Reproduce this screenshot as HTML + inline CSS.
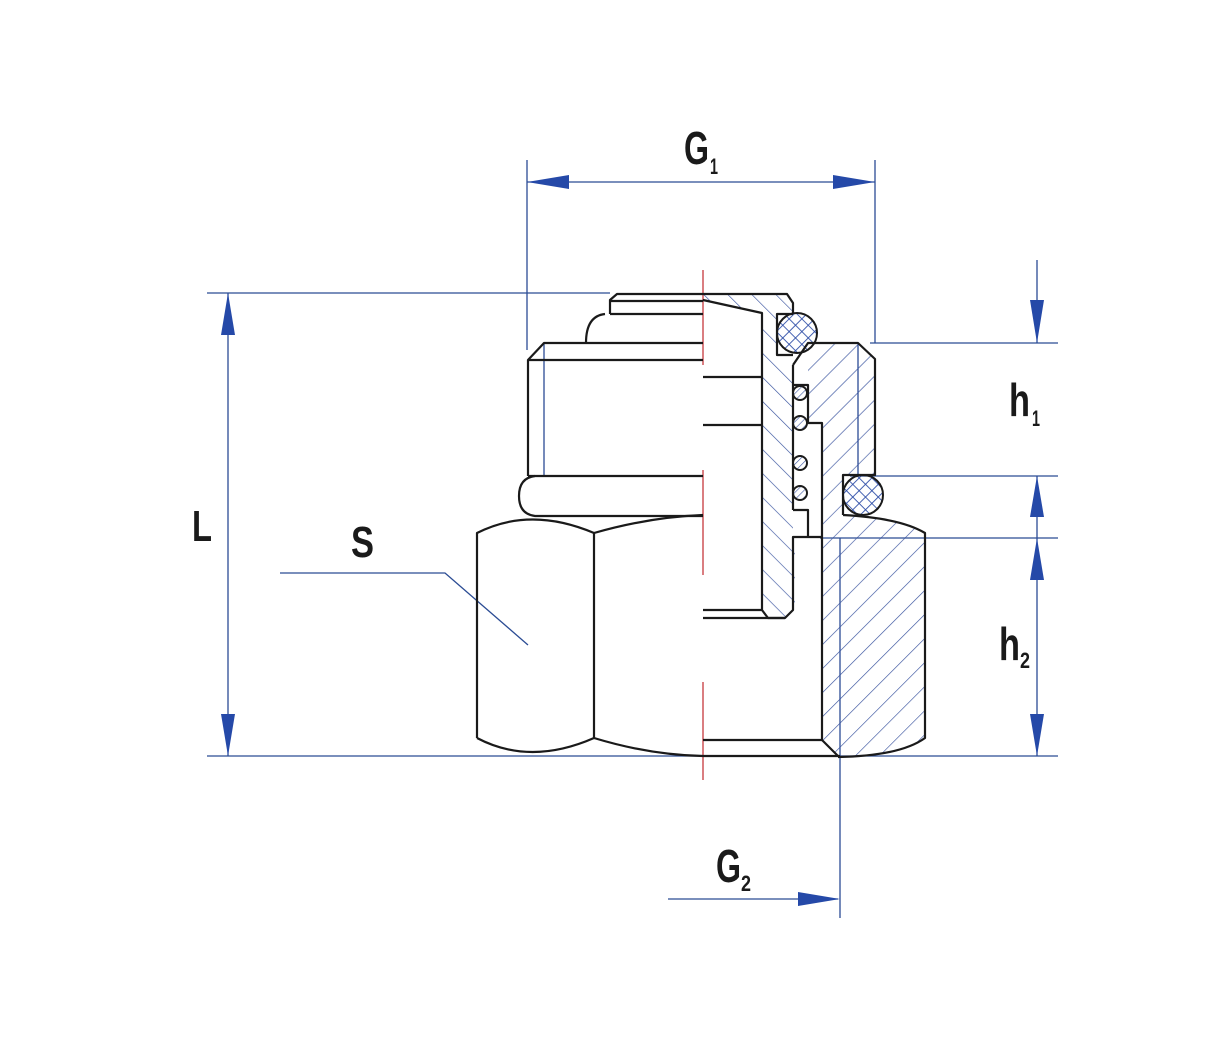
<!DOCTYPE html>
<html><head><meta charset="utf-8"><style>
html,body{margin:0;padding:0;background:#fff;width:1209px;height:1050px;overflow:hidden}
svg text{font-family:"Liberation Sans Narrow","Liberation Sans",sans-serif;fill:#1a1a1a}
</style></head><body>
<svg width="1209" height="1050" viewBox="0 0 1209 1050" xmlns="http://www.w3.org/2000/svg">
<defs>
<pattern id="hb" width="17" height="17" patternUnits="userSpaceOnUse" patternTransform="rotate(-45)"><line x1="0" y1="0" x2="0" y2="17" stroke="#3b55a0" stroke-width="1.3"/></pattern>
<pattern id="hf" width="17" height="17" patternUnits="userSpaceOnUse" patternTransform="rotate(45)"><line x1="0" y1="0" x2="0" y2="17" stroke="#3b55a0" stroke-width="1.3"/></pattern>
<pattern id="hx" width="9" height="9" patternUnits="userSpaceOnUse" patternTransform="rotate(45)"><path d="M0 0V9M0 0H9" stroke="#2f4fa8" stroke-width="1.8"/></pattern>
<pattern id="hs" width="5" height="5" patternUnits="userSpaceOnUse" patternTransform="rotate(45)"><line x1="0" y1="0" x2="0" y2="5" stroke="#3b55a0" stroke-width="1.2"/></pattern>
</defs>

<g stroke="#2b4c94" stroke-width="1.3" fill="none">
<line x1="527" y1="160" x2="527" y2="350"/>
<line x1="875" y1="160" x2="875" y2="343"/>
<line x1="527" y1="182" x2="875" y2="182"/>
<line x1="228" y1="293" x2="228" y2="756"/>
<line x1="207" y1="293" x2="610" y2="293"/>
<line x1="207" y1="756" x2="1058" y2="756"/>
<line x1="870" y1="343" x2="1058" y2="343"/>
<line x1="850" y1="476" x2="1058" y2="476"/>
<line x1="820" y1="538" x2="1058" y2="538"/>
<line x1="1037" y1="260" x2="1037" y2="343"/>
<line x1="1037" y1="476" x2="1037" y2="756"/>
<line x1="544" y1="343" x2="544" y2="476"/>
<line x1="858" y1="343" x2="858" y2="476"/>
<line x1="840" y1="538" x2="840" y2="918"/>
<line x1="668" y1="899" x2="838" y2="899"/>
<polyline points="280,573 445,573 528,645"/>
</g>
<g fill="#2549a8">
<polygon points="527,182 569,175 569,189"/>
<polygon points="875,182 833,175 833,189"/>
<polygon points="228,293 221,335 235,335"/>
<polygon points="228,756 221,714 235,714"/>
<polygon points="1037,343 1030,300 1044,300"/>
<polygon points="1037,476 1030,517 1044,517"/>
<polygon points="1037,538 1030,580 1044,580"/>
<polygon points="1037,756 1030,714 1044,714"/>
<polygon points="840,899 798,892 798,906"/>
</g>

<g stroke="#c0272d" stroke-width="1.2">
<line x1="703" y1="270" x2="703" y2="365"/>
<line x1="703" y1="470" x2="703" y2="575"/>
<line x1="703" y1="682" x2="703" y2="780"/>
</g>

<path d="M703,300 L703,294 L787,294 L793,305 L793,314 L777,314 L777,355 L793,365 L793,537 L795,537 L795,610 L785,618 L768,618 L762,610 L762,313 Z" fill="url(#hb)"/>
<path d="M808,365 L828,343 L858,343 L875,359 L875,475 L843,475 L843,515 Q900,518 925,533 L925,738 Q900,756 838,757 L822,740 L822,423 L808,423 Z" fill="url(#hf)"/>
<circle cx="797" cy="333" r="20" fill="url(#hx)"/>
<circle cx="863" cy="495" r="20" fill="url(#hx)"/>

<g stroke="#1a1a1a" stroke-width="2.2" fill="none" stroke-linejoin="round">
<polyline points="610,314 610,300 617,294 703,294"/>
<line x1="610" y1="301" x2="703" y2="301"/>
<line x1="610" y1="314" x2="703" y2="314"/>
<path d="M605,314 Q586,316 586,343"/>
<polyline points="528,476 528,360 544,343 703,343"/>
<line x1="528" y1="360" x2="703" y2="360"/>
<line x1="528" y1="476" x2="703" y2="476"/>
<path d="M535,476 Q519,478 519,496 Q519,514 535,516 L703,516"/>
<path d="M477,738 L477,533 Q530,506 594,533 Q650,517 703,515"/>
<line x1="594" y1="533" x2="594" y2="738"/>
<path d="M477,738 Q530,766 594,738 Q650,755 703,756 L840,756"/>
<line x1="703" y1="377" x2="762" y2="377"/>
<line x1="703" y1="425" x2="762" y2="425"/>
<line x1="703" y1="610" x2="762" y2="610"/>
<line x1="703" y1="618" x2="785" y2="618"/>
<line x1="703" y1="740" x2="822" y2="740"/>
<path d="M703,300 L762,313 L762,610 L768,618 L785,618 L793,610 L793,537 L822,537"/>
<polyline points="703,294 787,294 793,303 793,314"/>
<polyline points="793,314 777,314 777,355 793,355"/>
<line x1="793" y1="365" x2="793" y2="510"/>
<polyline points="793,385 808,385 808,423 822,423 822,740 838,756"/>
<polyline points="793,510 808,510 808,537"/>
<polyline points="793,365 808,343 858,343 875,359 875,475 843,475 843,515"/>
<path d="M843,515 Q900,518 925,533 L925,738 Q900,756 838,757"/>
</g>
<g stroke="#1a1a1a" stroke-width="2">
<circle cx="797" cy="333" r="20" fill="none"/>
<circle cx="863" cy="495" r="20" fill="none"/>
<circle cx="800" cy="393" r="7" fill="url(#hs)"/>
<circle cx="800" cy="423" r="7" fill="url(#hs)"/>
<circle cx="800" cy="463" r="7" fill="url(#hs)"/>
<circle cx="800" cy="493" r="7" fill="url(#hs)"/>
</g>

<g font-weight="bold">
<text x="684" y="164" font-size="46" textLength="25" lengthAdjust="spacingAndGlyphs">G</text><text x="710" y="174" font-size="22" textLength="8" lengthAdjust="spacingAndGlyphs">1</text>
<text x="192" y="541" font-size="44" textLength="20" lengthAdjust="spacingAndGlyphs">L</text>
<text x="351" y="557" font-size="44" textLength="23" lengthAdjust="spacingAndGlyphs">S</text>
<text x="1009" y="416" font-size="46" textLength="21" lengthAdjust="spacingAndGlyphs">h</text><text x="1032" y="426" font-size="22" textLength="8" lengthAdjust="spacingAndGlyphs">1</text>
<text x="999" y="660" font-size="46" textLength="21" lengthAdjust="spacingAndGlyphs">h</text><text x="1020" y="668" font-size="22" textLength="10" lengthAdjust="spacingAndGlyphs">2</text>
<text x="716" y="882" font-size="46" textLength="25" lengthAdjust="spacingAndGlyphs">G</text><text x="741" y="891" font-size="22" textLength="10" lengthAdjust="spacingAndGlyphs">2</text>
</g>
</svg>
</body></html>
